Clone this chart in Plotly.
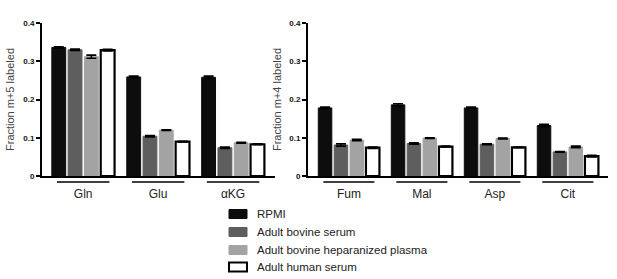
import plotly.graph_objects as go

left_cats = ["Gln", "Glu", "αKG"]
right_cats = ["Fum", "Mal", "Asp", "Cit"]
series = ["RPMI", "Adult bovine serum", "Adult bovine heparanized plasma", "Adult human serum"]

left_vals = {
    "RPMI": [0.336, 0.259, 0.258],
    "Adult bovine serum": [0.330, 0.104, 0.074],
    "Adult bovine heparanized plasma": [0.312, 0.120, 0.087],
    "Adult human serum": [0.329, 0.090, 0.083],
}
left_err = {
    "RPMI": [0.002, 0.002, 0.003],
    "Adult bovine serum": [0.002, 0.002, 0.002],
    "Adult bovine heparanized plasma": [0.004, 0.001, 0.001],
    "Adult human serum": [0.002, 0.001, 0.001],
}
right_vals = {
    "RPMI": [0.178, 0.186, 0.178, 0.132],
    "Adult bovine serum": [0.081, 0.085, 0.083, 0.063],
    "Adult bovine heparanized plasma": [0.094, 0.099, 0.098, 0.076],
    "Adult human serum": [0.074, 0.077, 0.075, 0.052],
}
right_err = {
    "RPMI": [0.002, 0.003, 0.002, 0.003],
    "Adult bovine serum": [0.003, 0.002, 0.001, 0.001],
    "Adult bovine heparanized plasma": [0.002, 0.001, 0.001, 0.002],
    "Adult human serum": [0.002, 0.001, 0.001, 0.002],
}

fills = ["#0d0d0d", "#5e5e5e", "#a3a3a3", "#ffffff"]
lines = ["#0d0d0d", "#5e5e5e", "#a3a3a3", "#000000"]
lwidths = [1, 1, 1, 2.2]

FONT = "Liberation Sans, Arial, sans-serif"
fig = go.Figure()
for i, s in enumerate(series):
    fig.add_trace(go.Bar(
        x=left_cats, y=left_vals[s], name=s,
        marker=dict(color=fills[i], line=dict(color=lines[i], width=lwidths[i])),
        error_y=dict(type="data", array=left_err[s], color="black", thickness=1.6, width=5),
        xaxis="x", yaxis="y", showlegend=False,
    ))
for i, s in enumerate(series):
    fig.add_trace(go.Bar(
        x=right_cats, y=right_vals[s], name=s,
        marker=dict(color=fills[i], line=dict(color=lines[i], width=lwidths[i])),
        error_y=dict(type="data", array=right_err[s], color="black", thickness=1.6, width=5),
        xaxis="x2", yaxis="y2", showlegend=False,
    ))

W, H = 617, 279
def px(x):
    return x / W
def py(y):
    return (H - y) / H

yaxis_common = dict(
    range=[0, 0.4], tickvals=[0, 0.1, 0.2, 0.3, 0.4],
    ticktext=["0", "0.1", "0.2", "0.3", "0.4"],
    showline=True, linecolor="black", linewidth=2, ticks="outside",
    ticklen=4, tickwidth=1.5, tickcolor="black", showgrid=False, zeroline=False,
    tickfont=dict(family=FONT, size=8, color="#111", weight="bold"),
    title_font=dict(family=FONT, size=11, color="#444"), automargin=False,
)
xaxis_common = dict(
    showline=True, linecolor="black", linewidth=2, ticks="", showgrid=False,
    tickfont=dict(family=FONT, size=12, color="#222"), ticklabelstandoff=6,
    automargin=False,
)

fig.update_layout(
    width=W, height=H, margin=dict(l=0, r=0, t=0, b=0),
    paper_bgcolor="white", plot_bgcolor="white",
    barmode="group", bargap=0.13, bargroupgap=0.15,
    font=dict(family=FONT),
    xaxis=dict(domain=[px(42), px(275)], anchor="y", range=[-0.55, 2.56], **xaxis_common),
    yaxis=dict(domain=[py(176), py(23)], anchor="x", title=dict(text="Fraction m+5 labeled", standoff=6), **yaxis_common),
    xaxis2=dict(domain=[px(308), px(608)], anchor="y2", range=[-0.56, 3.55], **xaxis_common),
    yaxis2=dict(domain=[py(176), py(23)], anchor="x2", title=dict(text="Fraction m+4 labeled", standoff=5), **yaxis_common),
)

shapes = []
for i, _ in enumerate(left_cats):
    shapes.append(dict(type="line", xref="x", yref="paper", x0=i - 0.35, x1=i + 0.35,
                       y0=py(182), y1=py(182), line=dict(color="black", width=1.5)))
for i, _ in enumerate(right_cats):
    shapes.append(dict(type="line", xref="x2", yref="paper", x0=i - 0.35, x1=i + 0.35,
                       y0=py(182), y1=py(182), line=dict(color="black", width=1.5)))

# legend drawn as swatches + labels
annotations = []
row_y = [214, 232, 250, 267]
for i, s in enumerate(series):
    shapes.append(dict(type="rect", xref="paper", yref="paper",
                       x0=px(229), x1=px(247), y0=py(row_y[i] + 4.5), y1=py(row_y[i] - 4.5),
                       fillcolor=fills[i], line=dict(color=lines[i] if i < 3 else "#000", width=1 if i < 3 else 2)))
    annotations.append(dict(xref="paper", yref="paper", x=px(255), y=py(row_y[i]),
                            xanchor="left", yanchor="middle", text=s, showarrow=False,
                            font=dict(family=FONT, size=11.5, color="#222")))
fig.update_layout(shapes=shapes, annotations=annotations)

fig.write_html("out.html", config={"displayModeBar": False},
               post_script="document.body.style.margin='0';document.body.style.padding='0';")
